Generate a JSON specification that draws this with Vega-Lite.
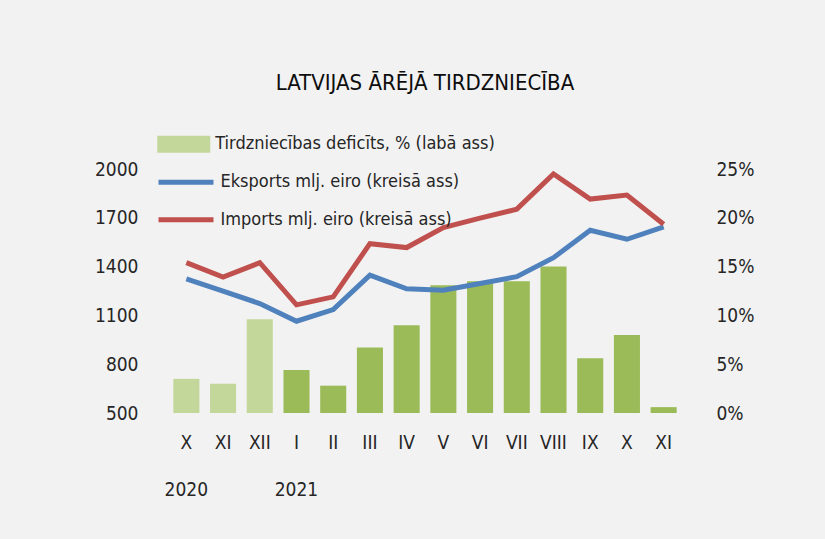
{
  "$schema": "https://vega.github.io/schema/vega-lite/v6.json",
  "width": 514,
  "height": 244,
  "autosize": "none",
  "padding": {"left": 168, "top": 169, "right": 143, "bottom": 126},
  "background": "#f2f2f2",
  "config": {
    "font": "'DejaVu Sans Condensed', 'Roboto', sans-serif",
    "view": {"stroke": null},
    "axis": {"domain": false, "ticks": false, "grid": false, "labelFont": "'DejaVu Sans Condensed', 'Roboto', sans-serif", "labelFontSize": 19, "labelColor": "#262626", "title": null}
  },
  "title": {"text": "LATVIJAS ĀRĒJĀ TIRDZNIECĪBA", "font": "'DejaVu Sans Condensed', 'Roboto', sans-serif", "fontSize": 22, "fontWeight": "normal", "color": "#0d0d0d", "anchor": "middle", "offset": 36},
  "datasets": {
    "bars": [
      {"k": "2020-10", "yr": 2020, "d": 3.5, "s": "Tirdzniecības deficīts, % (labā ass)"},
      {"k": "2020-11", "yr": 2020, "d": 3.0, "s": "Tirdzniecības deficīts, % (labā ass)"},
      {"k": "2020-12", "yr": 2020, "d": 9.6, "s": "Tirdzniecības deficīts, % (labā ass)"},
      {"k": "2021-01", "yr": 2021, "d": 4.4, "s": "Tirdzniecības deficīts, % (labā ass)"},
      {"k": "2021-02", "yr": 2021, "d": 2.8, "s": "Tirdzniecības deficīts, % (labā ass)"},
      {"k": "2021-03", "yr": 2021, "d": 6.7, "s": "Tirdzniecības deficīts, % (labā ass)"},
      {"k": "2021-04", "yr": 2021, "d": 9.0, "s": "Tirdzniecības deficīts, % (labā ass)"},
      {"k": "2021-05", "yr": 2021, "d": 13.1, "s": "Tirdzniecības deficīts, % (labā ass)"},
      {"k": "2021-06", "yr": 2021, "d": 13.5, "s": "Tirdzniecības deficīts, % (labā ass)"},
      {"k": "2021-07", "yr": 2021, "d": 13.5, "s": "Tirdzniecības deficīts, % (labā ass)"},
      {"k": "2021-08", "yr": 2021, "d": 15.0, "s": "Tirdzniecības deficīts, % (labā ass)"},
      {"k": "2021-09", "yr": 2021, "d": 5.6, "s": "Tirdzniecības deficīts, % (labā ass)"},
      {"k": "2021-10", "yr": 2021, "d": 8.0, "s": "Tirdzniecības deficīts, % (labā ass)"},
      {"k": "2021-11", "yr": 2021, "d": 0.6, "s": "Tirdzniecības deficīts, % (labā ass)"}
    ],
    "lines": [
      {"k": "2020-10", "s": "Eksports mlj. eiro (kreisā ass)", "v": 1325},
      {"k": "2020-11", "s": "Eksports mlj. eiro (kreisā ass)", "v": 1249},
      {"k": "2020-12", "s": "Eksports mlj. eiro (kreisā ass)", "v": 1173},
      {"k": "2021-01", "s": "Eksports mlj. eiro (kreisā ass)", "v": 1064},
      {"k": "2021-02", "s": "Eksports mlj. eiro (kreisā ass)", "v": 1136},
      {"k": "2021-03", "s": "Eksports mlj. eiro (kreisā ass)", "v": 1348},
      {"k": "2021-04", "s": "Eksports mlj. eiro (kreisā ass)", "v": 1264},
      {"k": "2021-05", "s": "Eksports mlj. eiro (kreisā ass)", "v": 1255},
      {"k": "2021-06", "s": "Eksports mlj. eiro (kreisā ass)", "v": 1296},
      {"k": "2021-07", "s": "Eksports mlj. eiro (kreisā ass)", "v": 1338},
      {"k": "2021-08", "s": "Eksports mlj. eiro (kreisā ass)", "v": 1455},
      {"k": "2021-09", "s": "Eksports mlj. eiro (kreisā ass)", "v": 1623},
      {"k": "2021-10", "s": "Eksports mlj. eiro (kreisā ass)", "v": 1568},
      {"k": "2021-11", "s": "Eksports mlj. eiro (kreisā ass)", "v": 1644},
      {"k": "2020-10", "s": "Imports mlj. eiro (kreisā ass)", "v": 1424},
      {"k": "2020-11", "s": "Imports mlj. eiro (kreisā ass)", "v": 1335},
      {"k": "2020-12", "s": "Imports mlj. eiro (kreisā ass)", "v": 1424},
      {"k": "2021-01", "s": "Imports mlj. eiro (kreisā ass)", "v": 1165},
      {"k": "2021-02", "s": "Imports mlj. eiro (kreisā ass)", "v": 1214},
      {"k": "2021-03", "s": "Imports mlj. eiro (kreisā ass)", "v": 1541},
      {"k": "2021-04", "s": "Imports mlj. eiro (kreisā ass)", "v": 1517},
      {"k": "2021-05", "s": "Imports mlj. eiro (kreisā ass)", "v": 1640},
      {"k": "2021-06", "s": "Imports mlj. eiro (kreisā ass)", "v": 1698},
      {"k": "2021-07", "s": "Imports mlj. eiro (kreisā ass)", "v": 1753},
      {"k": "2021-08", "s": "Imports mlj. eiro (kreisā ass)", "v": 1969},
      {"k": "2021-09", "s": "Imports mlj. eiro (kreisā ass)", "v": 1815},
      {"k": "2021-10", "s": "Imports mlj. eiro (kreisā ass)", "v": 1840},
      {"k": "2021-11", "s": "Imports mlj. eiro (kreisā ass)", "v": 1660}
    ]
  },
  "encoding": {
    "x": {
      "field": "k", "type": "ordinal", "sort": "ascending",
      "scale": {"paddingInner": 0.29, "paddingOuter": 0.145},
      "axis": {
        "labelAngle": 0, "labelPadding": 20, "labelLineHeight": 47,
        "labelExpr": "[['I','II','III','IV','V','VI','VII','VIII','IX','X','XI','XII'][toNumber(slice(datum.value,5))-1], (datum.value=='2020-10'||datum.value=='2021-01') ? slice(datum.value,0,4) : '']"
      }
    }
  },
  "layer": [
    {
      "data": {"name": "bars"},
      "mark": {"type": "bar"},
      "encoding": {
        "y": {"field": "d", "type": "quantitative",
          "scale": {"domain": [0, 25], "nice": false},
          "axis": {"orient": "right", "values": [0, 5, 10, 15, 20, 25], "labelExpr": "datum.value + '%'", "labelPadding": 34, "labelAlign": "left"}},
        "fill": {
          "condition": {"test": "datum.yr == 2021", "value": "#9bbb59"},
          "field": "s", "type": "nominal",
          "scale": {"range": ["#c4d79b"]},
          "legend": {"orient": "none", "legendX": 2.25, "legendY": -38.25, "title": null, "padding": 0,
            "symbolType": "M-2,-0.65H2V0.65H-2Z", "symbolSize": 702, "symbolStrokeWidth": 0,
            "labelOffset": 18, "labelFontSize": 18, "labelColor": "#262626", "labelFont": "'DejaVu Sans Condensed', 'Roboto', sans-serif", "labelLimit": 400}
        }
      }
    },
    {
      "data": {"name": "lines"},
      "mark": {"type": "line", "strokeWidth": 5},
      "encoding": {
        "y": {"field": "v", "type": "quantitative",
          "scale": {"domain": [500, 2000], "nice": false, "zero": false},
          "axis": {"orient": "left", "values": [500, 800, 1100, 1400, 1700, 2000], "format": "d", "labelPadding": 30}},
        "stroke": {"field": "s", "type": "nominal",
          "scale": {"domain": ["Eksports mlj. eiro (kreisā ass)", "Imports mlj. eiro (kreisā ass)"], "range": ["#4f81bd", "#c0504d"]},
          "legend": {"orient": "none", "legendX": 1.5, "legendY": -3.25, "title": null, "padding": 0,
            "symbolType": "M-2,0H2", "symbolSize": 756, "symbolStrokeWidth": 5, "rowPadding": 10.5,
            "labelOffset": 18, "labelFontSize": 18, "labelColor": "#262626", "labelFont": "'DejaVu Sans Condensed', 'Roboto', sans-serif", "labelLimit": 400}
        }
      }
    }
  ],
  "resolve": {"scale": {"y": "independent"}}
}
